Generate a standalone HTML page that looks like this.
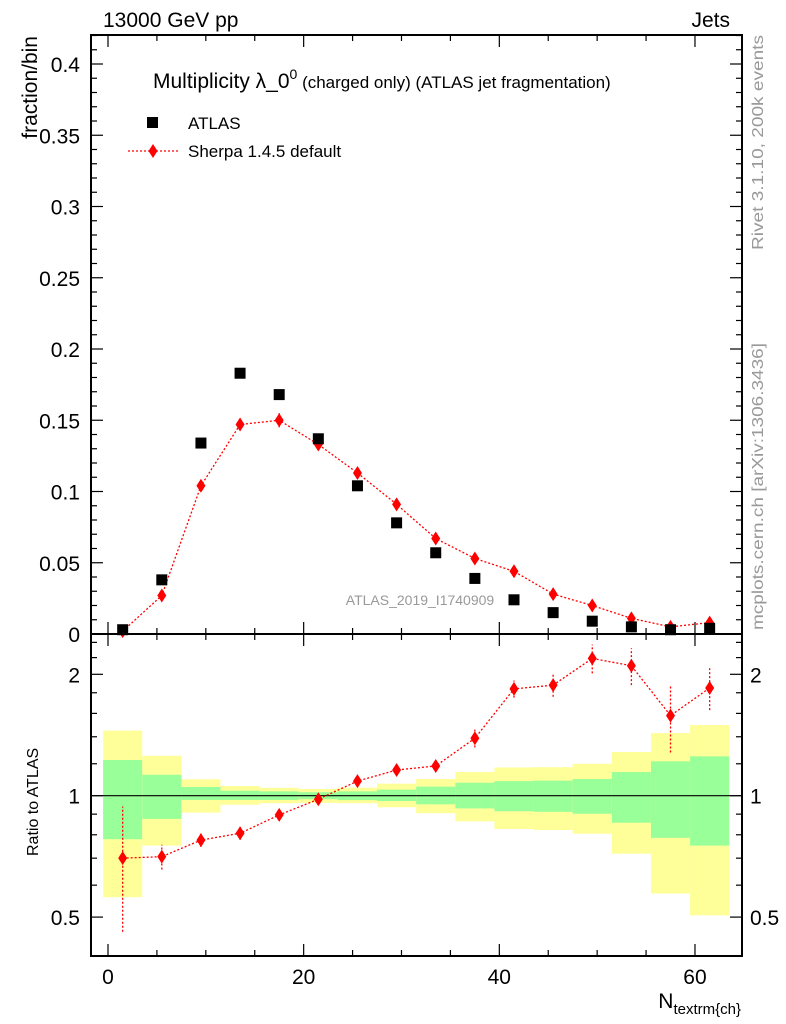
<!DOCTYPE html>
<html><head><meta charset="utf-8"><style>
body{margin:0;background:#fff;}
svg{display:block;font-family:"Liberation Sans",sans-serif;}
</style></head><body>
<svg id="c" width="786" height="1024"></svg>
<script>
const binCenters=[1.5,5.5,9.5,13.5,17.5,21.5,25.5,29.5,33.5,37.5,41.5,45.5,49.5,53.5,57.5,61.5];
const atlasVals=[0.003,0.038,0.134,0.183,0.168,0.137,0.104,0.078,0.057,0.039,0.024,0.015,0.009,0.005,0.003,0.004];
const sherpaVals=[0.002,0.027,0.104,0.147,0.150,0.133,0.113,0.091,0.067,0.053,0.044,0.028,0.020,0.011,0.005,0.008];
const sherpaErr=[0.001,0.002,0.003,0.004,0.005,0.004,0.004,0.003,0.003,0.002,0.002,0.002,0.002,0.001,0.001,0.001];
const ratioVals=[0.70,0.706,0.776,0.807,0.896,0.98,1.087,1.158,1.185,1.388,1.84,1.88,2.19,2.10,1.58,1.85];
const ratioErr=[0.24,0.05,0.03,0.03,0.03,0.03,0.03,0.03,0.04,0.07,0.09,0.12,0.18,0.22,0.3,0.22];
const yelHi=[1.45,1.256,1.098,1.057,1.046,1.039,1.047,1.071,1.10,1.145,1.175,1.177,1.2,1.283,1.43,1.497];
const yelLo=[0.56,0.752,0.908,0.95,0.958,0.96,0.958,0.936,0.905,0.864,0.827,0.822,0.805,0.718,0.572,0.505];
const grnHi=[1.226,1.127,1.051,1.029,1.025,1.02,1.025,1.035,1.053,1.077,1.087,1.09,1.10,1.145,1.217,1.252];
const grnLo=[0.78,0.876,0.976,0.976,0.976,0.98,0.975,0.97,0.952,0.93,0.915,0.912,0.902,0.857,0.786,0.752];
const xTicks=[0,20,40,60];
const yTicks=[0,0.05,0.1,0.15,0.2,0.25,0.3,0.35,0.4];
const yTickLabels=["0","0.05","0.1","0.15","0.2","0.25","0.3","0.35","0.4"];
const rTicks=[0.5,1,2];
const rTickLabels=["0.5","1","2"];
const binW=4;

const L=91,R=742,T=35,M=634,B=956;
const X=v=>108+v*9.783;
const Y=v=>634-v*1425;
const RY=r=>795.7-121.4*Math.log2(r);
const svg=document.getElementById('c');
const NS='http://www.w3.org/2000/svg';
function mk(tag,at,parent){const e=document.createElementNS(NS,tag);for(const k in at)e.setAttribute(k,at[k]);(parent||svg).appendChild(e);return e;}
function txt(s,at){const e=mk('text',at);e.textContent=s;return e;}

binCenters.forEach((c,i)=>{
 const x0=X(c-binW/2),x1=X(c+binW/2);
 let e=mk('rect',{x:x0,y:RY(yelHi[i]),width:x1-x0,height:RY(yelLo[i])-RY(yelHi[i]),fill:'#ffff99'});
 
 
 e=mk('rect',{x:x0,y:RY(grnHi[i]),width:x1-x0,height:RY(grnLo[i])-RY(grnHi[i]),fill:'#99ff99'});
 
 
});
mk('line',{x1:L,x2:R,y1:RY(1),y2:RY(1),stroke:'#000','stroke-width':1.2});

mk('rect',{x:L,y:T,width:R-L,height:M-T,fill:'none',stroke:'#000','stroke-width':2});
mk('rect',{x:L,y:M,width:R-L,height:B-M,fill:'none',stroke:'#000','stroke-width':2});

for(let v=0;v<=64;v+=5){
 const maj=v%20===0,len=maj?12:6,x=X(v);
 [[T,1],[M,-1],[M,1],[B,-1]].forEach(([y,d])=>mk('line',{x1:x,x2:x,y1:y,y2:y+d*len,stroke:'#000','stroke-width':1.2}));
}
xTicks.forEach(v=>{const e=txt(String(v),{x:X(v),y:984,'font-size':21,'text-anchor':'middle'});});
for(let i=0;i<=42;i++){const v=i/100,y=Y(v),len=i%5===0?12:6;
 mk('line',{x1:L,x2:L+len,y1:y,y2:y,stroke:'#000','stroke-width':1.2});
 mk('line',{x1:R,x2:R-len,y1:y,y2:y,stroke:'#000','stroke-width':1.2});}
yTicks.forEach((v,i)=>{const e=txt(yTickLabels[i],{x:80,y:Y(v)+8,'font-size':21,'text-anchor':'end'});});
[0.4,0.5,0.6,0.7,0.8,0.9,1,1.2,1.4,1.6,1.8,2,2.2,2.4].forEach(r=>{const y=RY(r),len=rTicks.includes(r)?12:6;
 mk('line',{x1:L,x2:L+len,y1:y,y2:y,stroke:'#000','stroke-width':1.2});
 mk('line',{x1:R,x2:R-len,y1:y,y2:y,stroke:'#000','stroke-width':1.2});});
rTicks.forEach((r,i)=>{
 let e=txt(rTickLabels[i],{x:80,y:RY(r)+8,'font-size':21,'text-anchor':'end'});
 e=txt(rTickLabels[i],{x:750,y:RY(r)+8,'font-size':21});
});

mk('polyline',{points:binCenters.map((c,i)=>X(c)+','+Y(sherpaVals[i])).join(' '),fill:'none',stroke:'red','stroke-width':1.3,'stroke-dasharray':'2,2'});
function diamond(x,y,name){const e=mk('polygon',{points:`${x},${y-7} ${x+4.5},${y} ${x},${y+7} ${x-4.5},${y}`,fill:'red'});}
binCenters.forEach((c,i)=>{
 mk('line',{x1:X(c),x2:X(c),y1:Y(sherpaVals[i]-sherpaErr[i]),y2:Y(sherpaVals[i]+sherpaErr[i]),stroke:'red','stroke-width':1.3});
 diamond(X(c),Y(sherpaVals[i]),'sherpa-point');
});
binCenters.forEach((c,i)=>{const e=mk('rect',{x:X(c)-5.5,y:Y(atlasVals[i])-5.5,width:11,height:11,fill:'#000'});
 });
mk('polyline',{points:binCenters.map((c,i)=>X(c)+','+RY(ratioVals[i])).join(' '),fill:'none',stroke:'red','stroke-width':1.3,'stroke-dasharray':'2,2'});
binCenters.forEach((c,i)=>{
 mk('line',{x1:X(c),x2:X(c),y1:RY(ratioVals[i]-ratioErr[i]),y2:RY(ratioVals[i]+ratioErr[i]),stroke:'red','stroke-width':1.3,'stroke-dasharray':'2,2'});
 diamond(X(c),RY(ratioVals[i]),'ratio-point');
});
</script>
<svg width="786" height="1024" style="position:absolute;left:0;top:0" font-family="Liberation Sans, sans-serif">
<text x="103" y="27" font-size="21">13000 GeV pp</text>
<text x="730" y="27" font-size="21" text-anchor="end">Jets</text>
<text x="153" y="88" font-size="21">Multiplicity λ_0<tspan font-size="14" dy="-9">0</tspan><tspan font-size="17" dy="9"> (charged only) (ATLAS jet fragmentation)</tspan></text>
<rect x="147" y="117" width="11" height="11" fill="#000"/>
<text x="188" y="129" font-size="17">ATLAS</text>
<line x1="128" x2="178" y1="151" y2="151" stroke="red" stroke-width="1.3" stroke-dasharray="2,2"/>
<polygon points="153,144 157.5,151 153,158 148.5,151" fill="red"/>
<text x="188" y="157" font-size="17">Sherpa 1.4.5 default</text>
<text x="420" y="605" font-size="14" fill="#999" text-anchor="middle">ATLAS_2019_I1740909</text>
<text transform="translate(37,36) rotate(-90)" font-size="21" text-anchor="end">fraction/bin</text>
<text transform="translate(38,856) rotate(-90)" font-size="16">Ratio to ATLAS</text>
<text x="741" y="1008" font-size="21" text-anchor="end">N<tspan font-size="15" dy="6">textrm{ch}</tspan></text>
<text transform="translate(763,250) rotate(-90)" font-size="16" fill="#999" textLength="215" lengthAdjust="spacingAndGlyphs">Rivet 3.1.10,  200k events</text>
<text transform="translate(763,630) rotate(-90)" font-size="16" fill="#999" textLength="287" lengthAdjust="spacingAndGlyphs">mcplots.cern.ch [arXiv:1306.3436]</text>
</svg>
</body></html>
